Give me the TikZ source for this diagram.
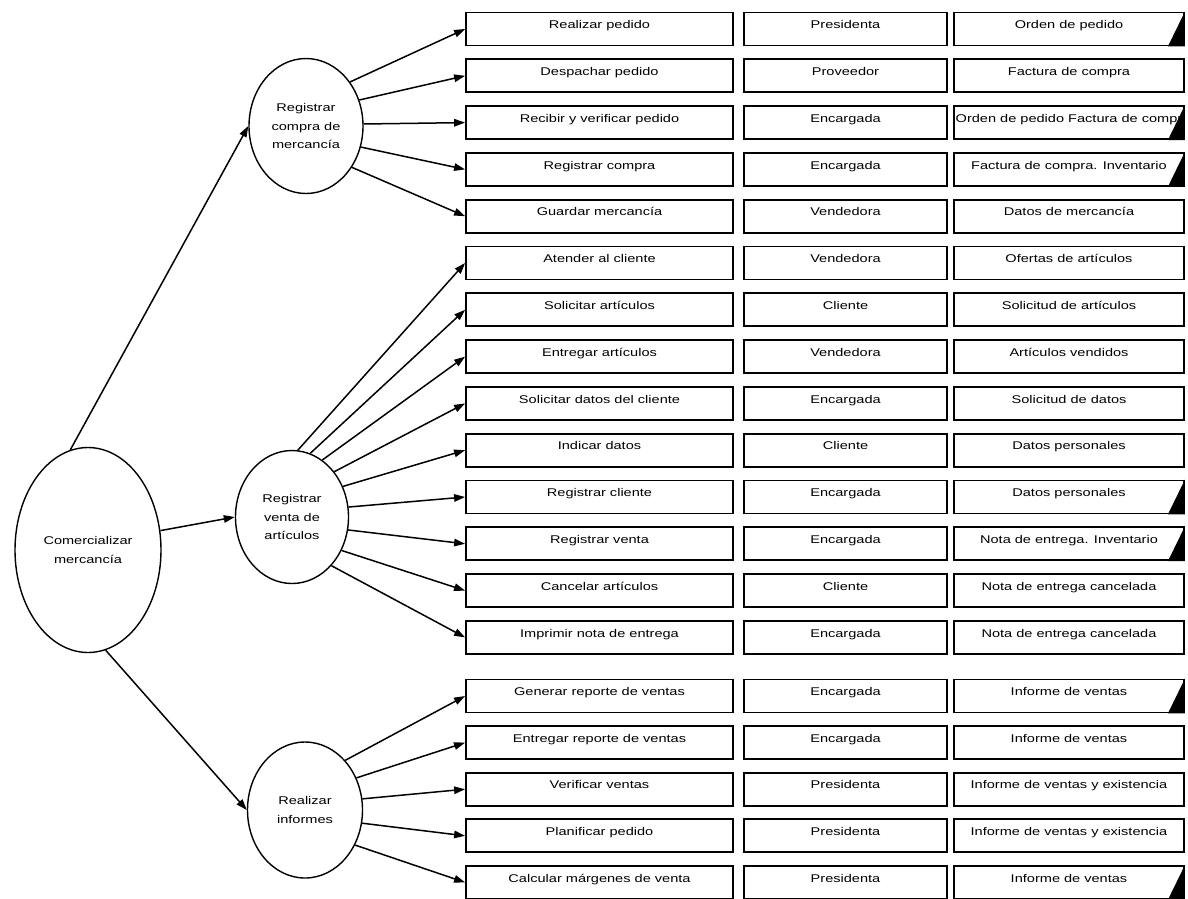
\documentclass[tikz,border=0pt]{standalone}
\usepackage{fontspec}
\newfontfamily\lbl[FakeStretch=1.3]{Liberation Sans}
\usetikzlibrary{shapes.geometric,arrows.meta,calc}
\begin{document}
\begin{tikzpicture}[x=1pt,y=-1pt,
  box/.style={draw, line width=1.8pt, minimum height=33pt, inner sep=0pt,
    text height=8pt, text depth=8.5pt, font=\lbl\fontsize{11.2}{13}\selectfont},
  colA/.style={box, minimum width=267pt},
  colB/.style={box, minimum width=203pt},
  colC/.style={box, minimum width=230pt},
  proc/.style={draw, ellipse, line width=1.4pt, inner sep=0pt, align=center,
    font=\lbl\fontsize{11.2}{18.5}\selectfont},
  arr/.style={-{Triangle[length=11pt,width=7.5pt]}, line width=1.5pt},
  flag/.style={fill=black}]
\useasboundingbox (0,0) rectangle (1188,898);

% process ellipses
\node[proc, minimum width=146pt, minimum height=205pt] (com) at (88,550) {Comercializar\\mercancía};
\node[proc, minimum width=114pt, minimum height=135pt] (compra) at (306,126) {Registrar\\compra de\\mercancía};
\node[proc, minimum width=113pt, minimum height=133pt] (venta) at (292,517) {Registrar\\venta de\\artículos};
\node[proc, minimum width=115pt, minimum height=136pt] (inf) at (305,810) {Realizar\\informes};

% rows
\foreach \i/\a/\b/\c in {
  1/Realizar pedido/Presidenta/Orden de pedido,
  2/Despachar pedido/Proveedor/Factura de compra,
  3/Recibir y verificar pedido/Encargada/Orden de pedido Factura de compr,
  4/Registrar compra/Encargada/Factura de compra. Inventario,
  5/Guardar mercancía/Vendedora/Datos de mercancía,
  6/Atender al cliente/Vendedora/Ofertas de artículos,
  7/Solicitar artículos/Cliente/Solicitud de artículos,
  8/Entregar artículos/Vendedora/Artículos vendidos,
  9/Solicitar datos del cliente/Encargada/Solicitud de datos,
  10/Indicar datos/Cliente/Datos personales,
  11/Registrar cliente/Encargada/Datos personales,
  12/Registrar venta/Encargada/Nota de entrega. Inventario,
  13/Cancelar artículos/Cliente/Nota de entrega cancelada,
  14/Imprimir nota de entrega/Encargada/Nota de entrega cancelada,
  15/Generar reporte de ventas/Encargada/Informe de ventas,
  16/Entregar reporte de ventas/Encargada/Informe de ventas,
  17/Verificar ventas/Presidenta/Informe de ventas y existencia,
  18/Planificar pedido/Presidenta/Informe de ventas y existencia,
  19/Calcular márgenes de venta/Presidenta/Informe de ventas}{
  \pgfmathsetmacro\yy{\i<15 ? 29+(\i-1)*46.8 : 696+(\i-15)*46.6}
  \node[colA] (a\i) at (599.5,\yy) {\a};
  \node[colB] (b\i) at (845.5,\yy) {\b};
  \node[colC] (c\i) at (1069,\yy) {\c};
}

% black corner flags
\foreach \i in {1,3,4,11,12,15,19}
  \fill[flag] (c\i.south east) -- (c\i.north east) -- ([xshift=-17pt]c\i.south east) -- cycle;

% main arrows
\draw[arr] (com.100) -- (compra.west);
\draw[arr] (com.15) -- (venta.west);
\draw[arr] (com.-80) -- (inf.west);

% fans
\foreach \i/\ang in {1/45,2/26,3/2,4/-21,5/-42}
  \draw[arr] (compra.\ang) -- (a\i.west);
\foreach \i/\ang in {6/85,7/74,8/62,9/47,10/31,11/10,12/-13,13/-34,14/-51}
  \draw[arr] (venta.\ang) -- (a\i.west);
\foreach \i/\ang in {15/51,16/32,17/11,18/-13,19/-35}
  \draw[arr] (inf.\ang) -- (a\i.west);
\end{tikzpicture}
\end{document}
